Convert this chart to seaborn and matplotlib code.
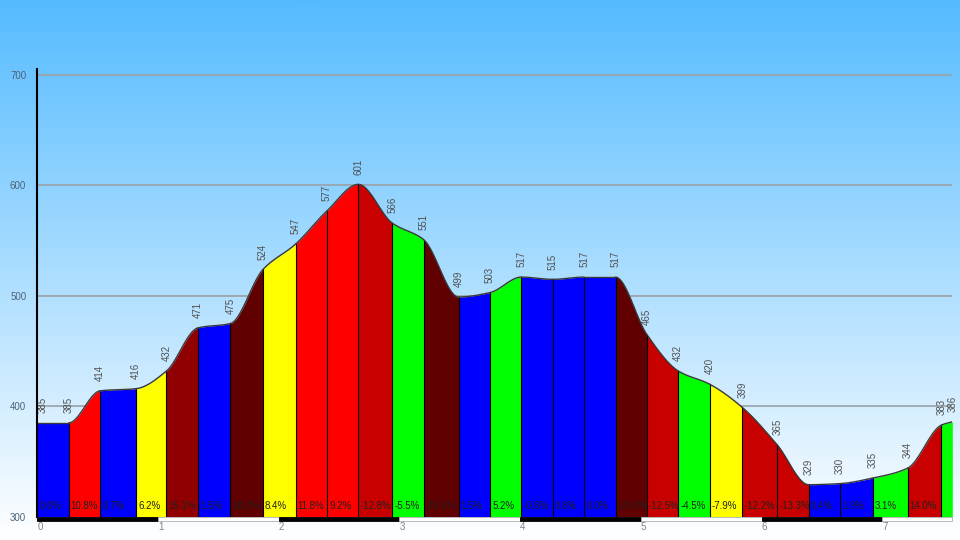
import numpy as np
import pandas as pd
import seaborn as sns
import matplotlib.pyplot as plt
from matplotlib.patches import Rectangle

# distance along the route (km) and elevation (m) at each segment boundary
dist_km = [0, 0.26, 0.52, 0.82, 1.07, 1.33, 1.60, 1.87, 2.14, 2.40, 2.66, 2.94,
           3.20, 3.49, 3.75, 4.01, 4.27, 4.53, 4.79, 5.05, 5.31, 5.57, 5.84,
           6.13, 6.39, 6.65, 6.92, 7.21, 7.49, 7.58]
elev_m = [385, 385, 414, 416, 432, 471, 475, 524, 547, 577, 601, 566, 551,
          499, 503, 517, 515, 517, 517, 465, 432, 420, 399, 365, 329, 330,
          335, 344, 383, 386]
# gradient of each segment (%)
grade_pct = [0.0, 10.8, 0.7, 6.2, 15.1, 1.5, 18.2, 8.4, 11.8, 9.2, -12.8, -5.5,
             -18.3, 1.5, 5.2, -0.8, 0.8, 0.0, -20.0, -12.5, -4.5, -7.9, -12.2,
             -13.3, 0.4, 1.9, 3.1, 14.0, 3.3]
y_ticks = [300, 400, 500, 600, 700]
x_ticks = [0, 1, 2, 3, 4, 5, 6, 7]


def grade_color(g):
    a = abs(g)
    if a < 2:
        return "#0000ff"
    if a < 6:
        return "#00ff00"
    if a < 9:
        return "#ffff00"
    if a < 12:
        return "#ff0000"
    if a < 15:
        return "#c80000"
    if a < 18:
        return "#900000"
    return "#600000"


def pchip_slopes(x, y):
    h = np.diff(x)
    d = np.diff(y) / h
    m = np.zeros(len(x))
    m[0], m[-1] = d[0], d[-1]
    for k in range(1, len(x) - 1):
        if d[k - 1] * d[k] <= 0:
            m[k] = 0
        else:
            w1 = 2 * h[k] + h[k - 1]
            w2 = h[k] + 2 * h[k - 1]
            m[k] = (w1 + w2) / (w1 / d[k - 1] + w2 / d[k])
    return m


x = np.array(dist_km, dtype=float)
y = np.array(elev_m, dtype=float)
m = pchip_slopes(x, y)

# smooth profile for drawing, one piece per segment
pieces = []
for i in range(len(x) - 1):
    t = np.linspace(0, 1, 40)
    h = x[i + 1] - x[i]
    yy = ((2 * t**3 - 3 * t**2 + 1) * y[i] + (t**3 - 2 * t**2 + t) * h * m[i]
          + (-2 * t**3 + 3 * t**2) * y[i + 1] + (t**3 - t**2) * h * m[i + 1])
    pieces.append(pd.DataFrame({"km": x[i] + t * h, "elev": yy, "seg": i}))
profile = pd.concat(pieces, ignore_index=True)

sns.set_style("white")
plt.rcParams["font.family"] = ["Liberation Sans", "DejaVu Sans"]

fig = plt.figure(figsize=(9.6, 5.4), dpi=100)

# sky gradient behind everything
bg = fig.add_axes([0, 0, 1, 1], zorder=-1)
top = np.array([85, 187, 255]) / 255
bottom = np.array([255, 255, 255]) / 255
ramp = np.linspace(0, 1, 256)[:, None]
grad = top[None, :] * (1 - ramp) + bottom[None, :] * ramp
bg.imshow(grad[:, None, :], aspect="auto", extent=[0, 1, 0, 1])
bg.axis("off")

ax = fig.add_axes([37.3 / 960, 23.3 / 540, 915 / 960, 447.7 / 540])
ax.patch.set_alpha(0)
ax.set_xlim(0, dist_km[-1])
ax.set_ylim(300, 705.5)

for v in y_ticks[1:]:
    ax.axhline(v, color="#9aa0a6", lw=1.2, zorder=0)

for i, g in enumerate(grade_pct):
    seg = profile[profile["seg"] == i]
    ax.fill_between(seg["km"], 300, seg["elev"], color=grade_color(g),
                    lw=0, zorder=2)
    if dist_km[i + 1] - dist_km[i] > 0.15:
        ax.annotate(f"{g:.1f}%", (dist_km[i], 300), xytext=(1.5, 7.5),
                    textcoords="offset points", ha="left", va="center",
                    fontsize=7, color="#202020", zorder=5)

for xb, yb in zip(dist_km[1:-1], elev_m[1:-1]):
    ax.plot([xb, xb], [300, yb], color="black", lw=0.8, zorder=3)

sns.lineplot(data=profile, x="km", y="elev", units="seg", estimator=None,
             color="#3a3a3a", lw=1, ax=ax, zorder=4)

for i, (xb, yb) in enumerate(zip(dist_km, elev_m)):
    dx = 4 if i == 0 else 0
    ax.annotate(str(yb), (xb, yb), xytext=(dx, 7), textcoords="offset points",
                rotation=90, ha="center", va="bottom", fontsize=7,
                color="#505050", zorder=5)

# km scale bar along the bottom
for k in x_ticks:
    w = min(1, dist_km[-1] - k)
    ax.add_patch(Rectangle((k, 296.4), w, 3.6, clip_on=False, zorder=6,
                           facecolor="black" if k % 2 == 0 else "white",
                           edgecolor="black" if k % 2 == 0 else "#b0b0b0",
                           lw=0.6))

ax.set_yticks(y_ticks)
ax.set_yticklabels([str(v) for v in y_ticks], fontsize=7, color="#4a6478")
ax.set_xticks(x_ticks)
ax.set_xticklabels([str(v) for v in x_ticks], fontsize=7, color="#7a8591",
                   ha="left")
ax.tick_params(axis="y", length=0, pad=8)
ax.tick_params(axis="x", length=0, pad=4)
ax.set_xlabel("")
ax.set_ylabel("")
for s in ["top", "right", "bottom"]:
    ax.spines[s].set_visible(False)
ax.spines["left"].set_color("black")
ax.spines["left"].set_linewidth(1.5)
ax.spines["left"].set_zorder(7)

fig.savefig("out.png", dpi=100)
